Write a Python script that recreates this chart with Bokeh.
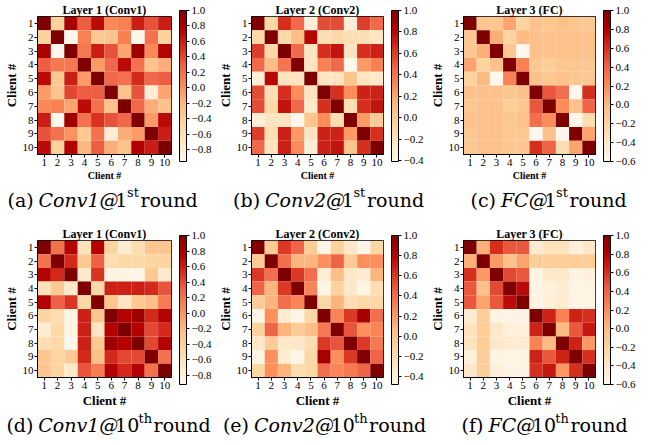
import numpy as np
from bokeh.plotting import figure
from bokeh.models import (LinearColorMapper, ColorBar, FixedTicker, CustomJSTickFormatter,
                          Label, Range1d, ColumnDataSource)
from bokeh.layouts import row, column
from bokeh.embed import file_html
from bokeh.resources import INLINE

# ---------------- data ----------------
clients = list(range(1, 11))
tick_labels = [str(c) for c in clients]

conv1_r1 = [
    [1.00, -0.45, 0.80, 0.30, 0.70, 0.05, 0.10, 0.60, 0.35, 0.60],
    [-0.45, 1.00, -0.95, 0.10, -0.35, -0.30, 0.10, -0.95, 0.20, -0.45],
    [0.80, -0.95, 1.00, 0.15, 0.60, 0.35, -0.10, 0.85, 0.05, 0.75],
    [0.30, 0.15, 0.15, 1.00, -0.05, 0.25, 0.70, 0.20, -0.30, -0.15],
    [0.70, -0.35, 0.60, -0.05, 1.00, 0.25, 0.20, 0.55, 0.25, 0.30],
    [-0.05, -0.30, 0.40, 0.30, 0.30, 1.00, -0.30, 0.35, -0.80, -0.10],
    [0.05, 0.10, -0.10, 0.70, 0.20, -0.30, 1.00, 0.25, -0.15, -0.30],
    [0.60, -0.95, 0.85, 0.20, 0.50, 0.35, 0.25, 1.00, -0.05, 0.70],
    [0.35, 0.20, 0.00, -0.35, 0.20, -0.80, -0.15, -0.05, 1.00, 0.60],
    [0.70, -0.45, 0.75, -0.20, 0.30, -0.15, -0.30, 0.75, 0.60, 1.00],
]
conv2_r1 = [
    [1.00, -0.10, 0.65, 0.45, -0.30, 0.55, 0.55, -0.30, 0.60, 0.45],
    [-0.10, 1.00, -0.10, 0.10, 0.80, -0.15, -0.10, -0.15, -0.15, -0.20],
    [0.60, -0.10, 1.00, 0.45, -0.20, 0.65, 0.75, -0.20, 0.65, 0.70],
    [0.45, 0.10, 0.40, 1.00, -0.20, 0.35, 0.45, -0.40, 0.25, 0.35],
    [-0.30, 0.80, -0.20, -0.20, 1.00, -0.20, -0.20, 0.05, -0.20, -0.25],
    [0.55, -0.15, 0.65, 0.30, -0.20, 1.00, 0.65, 0.30, 0.70, 0.70],
    [0.55, -0.10, 0.75, 0.45, -0.25, 0.65, 1.00, -0.15, 0.65, 0.75],
    [-0.30, -0.20, -0.20, -0.40, 0.05, 0.30, -0.15, 1.00, 0.25, 0.00],
    [0.60, -0.15, 0.70, 0.25, -0.20, 0.70, 0.70, 0.25, 1.00, 0.65],
    [0.45, -0.20, 0.70, 0.30, -0.30, 0.70, 0.75, 0.05, 0.65, 1.00],
]
fc_r1 = [
    [1.00, -0.10, -0.10, 0.10, -0.20, -0.05, -0.10, -0.05, -0.10, -0.10],
    [-0.10, 1.00, 0.05, -0.20, 0.00, -0.05, -0.05, -0.05, -0.05, -0.05],
    [-0.10, 0.05, 1.00, -0.10, -0.60, -0.05, -0.05, -0.05, -0.05, -0.05],
    [0.10, -0.20, -0.05, 1.00, 0.25, -0.10, -0.15, -0.10, -0.10, -0.10],
    [-0.20, 0.00, -0.60, 0.25, 1.00, -0.05, -0.10, -0.05, -0.10, -0.10],
    [-0.05, -0.05, -0.05, -0.10, -0.05, 1.00, 0.45, 0.35, -0.60, 0.60],
    [-0.10, -0.05, -0.05, -0.15, -0.10, 0.45, 1.00, 0.20, -0.05, 0.40],
    [-0.05, -0.05, -0.05, -0.10, -0.05, 0.35, 0.20, 1.00, -0.60, -0.30],
    [-0.10, -0.05, -0.05, -0.10, -0.10, -0.60, -0.05, -0.60, 1.00, 0.10],
    [-0.10, -0.05, -0.05, -0.10, -0.10, 0.60, 0.40, -0.30, 0.10, 1.00],
]
conv1_r10 = [
    [1.00, 0.20, 0.75, -0.60, 0.75, -0.45, -0.75, -0.55, -0.30, -0.30],
    [0.20, 1.00, 0.55, -0.35, 0.30, -0.55, -0.50, -0.50, -0.45, -0.45],
    [0.75, 0.55, 1.00, -0.70, 0.50, -0.85, -0.85, -0.90, -0.35, -0.70],
    [-0.60, -0.35, -0.70, 1.00, -0.50, 0.60, 0.60, 0.60, 0.55, 0.35],
    [0.75, 0.30, 0.50, -0.50, 1.00, -0.30, -0.65, -0.35, -0.25, 0.15],
    [-0.45, -0.55, -0.85, 0.60, -0.30, 1.00, 0.75, 0.85, 0.55, 0.75],
    [-0.75, -0.50, -0.85, 0.60, -0.65, 0.75, 1.00, 0.75, 0.40, 0.55],
    [-0.55, -0.50, -0.90, 0.60, -0.35, 0.85, 0.75, 1.00, 0.40, 0.75],
    [-0.30, -0.45, -0.35, 0.55, -0.25, 0.55, 0.40, 0.40, 1.00, 0.20],
    [-0.30, -0.45, -0.70, 0.35, 0.15, 0.75, 0.55, 0.75, 0.20, 1.00],
]
conv2_r10 = [
    [1.00, -0.05, 0.60, 0.45, -0.05, -0.45, -0.10, -0.30, -0.45, -0.15],
    [-0.05, 1.00, 0.40, 0.10, 0.10, 0.25, 0.45, -0.05, 0.25, 0.25],
    [0.60, 0.40, 1.00, 0.60, 0.40, -0.35, 0.05, -0.30, -0.35, 0.10],
    [0.45, 0.10, 0.60, 1.00, 0.30, -0.45, -0.10, -0.30, -0.45, -0.20],
    [-0.05, 0.10, 0.40, 0.30, 1.00, -0.15, 0.10, -0.20, -0.15, -0.15],
    [-0.45, 0.25, -0.35, -0.45, -0.15, 1.00, 0.30, 0.60, 0.85, 0.40],
    [-0.10, 0.45, 0.10, -0.05, 0.05, 0.35, 1.00, 0.50, 0.25, 0.30],
    [-0.30, -0.05, -0.30, -0.30, -0.20, 0.60, 0.50, 1.00, 0.60, 0.35],
    [-0.45, 0.25, -0.35, -0.45, -0.15, 0.85, 0.25, 0.60, 1.00, 0.45],
    [-0.15, 0.25, 0.10, -0.20, -0.15, 0.40, 0.30, 0.35, 0.45, 1.00],
]
fc_r10 = [
    [1.00, 0.05, 0.60, 0.45, 0.45, -0.45, -0.35, -0.35, -0.50, -0.40],
    [0.05, 1.00, 0.15, -0.05, 0.10, -0.15, -0.15, -0.15, -0.15, -0.15],
    [0.60, 0.15, 1.00, 0.50, 0.45, -0.55, -0.40, -0.40, -0.55, -0.50],
    [0.45, -0.05, 0.50, 1.00, 0.75, -0.55, -0.50, -0.45, -0.55, -0.55],
    [0.45, 0.10, 0.45, 0.75, 1.00, -0.55, -0.50, -0.45, -0.55, -0.55],
    [-0.45, -0.15, -0.55, -0.55, -0.55, 1.00, 0.65, 0.25, 0.65, 0.60],
    [-0.35, -0.15, -0.40, -0.50, -0.50, 0.65, 1.00, 0.00, 0.45, 0.70],
    [-0.35, -0.15, -0.40, -0.45, -0.45, 0.25, 0.00, 1.00, 0.65, 0.15],
    [-0.50, -0.15, -0.55, -0.55, -0.55, 0.65, 0.45, 0.65, 1.00, 0.60],
    [-0.40, -0.15, -0.50, -0.55, -0.55, 0.60, 0.70, 0.15, 0.60, 1.00],
]

titles = ["Layer 1 (Conv1)", "Layer 2 (Conv2)", "Layer 3 (FC)",
          "Layer 1 (Conv1)", "Layer 2 (Conv2)", "Layer 3 (FC)"]
matrices = [conv1_r1, conv2_r1, fc_r1, conv1_r10, conv2_r10, fc_r10]
color_low = [-0.95, -0.41, -0.60, -0.92, -0.48, -0.60]
color_high = [1.0, 1.0, 1.0, 1.0, 1.0, 1.0]
cbar_ticks = [
    [-0.8, -0.6, -0.4, -0.2, 0.0, 0.2, 0.4, 0.6, 0.8, 1.0],
    [-0.4, -0.2, 0.0, 0.2, 0.4, 0.6, 0.8, 1.0],
    [-0.6, -0.4, -0.2, 0.0, 0.2, 0.4, 0.6, 0.8, 1.0],
    [-0.8, -0.6, -0.4, -0.2, 0.0, 0.2, 0.4, 0.6, 0.8, 1.0],
    [-0.4, -0.2, 0.0, 0.2, 0.4, 0.6, 0.8, 1.0],
    [-0.6, -0.4, -0.2, 0.0, 0.2, 0.4, 0.6, 0.8, 1.0],
]
# caption pieces: (text, style, is_superscript)
captions = [
    [("(a) ", "normal", False), ("Conv1@", "italic", False), ("1", "normal", False), ("st", "normal", True), (" round", "normal", False)],
    [("(b) ", "normal", False), ("Conv2@", "italic", False), ("1", "normal", False), ("st", "normal", True), (" round", "normal", False)],
    [("(c) ", "normal", False), ("FC@", "italic", False), ("1", "normal", False), ("st", "normal", True), (" round", "normal", False)],
    [("(d) ", "normal", False), ("Conv1@", "italic", False), ("10", "normal", False), ("th", "normal", True), (" round", "normal", False)],
    [("(e) ", "normal", False), ("Conv2@", "italic", False), ("10", "normal", False), ("th", "normal", True), (" round", "normal", False)],
    [("(f) ", "normal", False), ("FC@", "italic", False), ("10", "normal", False), ("th", "normal", True), (" round", "normal", False)],
]

# ---------------- style ----------------
SERIF = "Liberation Serif"
CAP_FONT = "DejaVu Serif"
anchors = ['#fff7ec', '#fee8c8', '#fdd49e', '#fdbb84', '#fc8d59',
           '#ef6548', '#d7301f', '#b30000', '#7f0000']
rgb = np.array([[int(h[i:i + 2], 16) for i in (1, 3, 5)] for h in anchors], float)
tpos = np.linspace(0, 1, len(anchors))
palette = []
for v in np.linspace(0, 1, 256):
    r, g, b = (np.interp(v, tpos, rgb[:, k]) for k in range(3))
    palette.append('#%02x%02x%02x' % (int(round(r)), int(round(g)), int(round(b))))

# approximate advance widths (em) of DejaVu Serif (scaled to rendered size)
CW = {' ': .318, '(': .390, ')': .390, 'a': .596, 'b': .640, 'c': .562, 'd': .640,
      'e': .592, 'f': .371, 'h': .644, 'n': .644, 'o': .602, 'r': .478, 's': .512,
      't': .402, 'u': .644, 'v': .589, 'C': .717, 'F': .654, '@': 1.0}

def text_w(s, size):
    return sum(CW.get(ch, .636) for ch in s) * size * 0.965

fmt = CustomJSTickFormatter(code="return (tick < -1e-9 ? '\\u2212' : '') + Math.abs(tick).toFixed(1);")

def make_panel(i, W, L, T, FW, FH, B, xlab_size):
    H = T + FH + B
    mat = np.array(matrices[i])
    xs = [c for r_ in clients for c in clients]
    ys = [r_ for r_ in clients for c in clients]
    src = ColumnDataSource(dict(x=xs, y=ys, v=mat.flatten().tolist()))
    mapper = LinearColorMapper(palette=palette, low=color_low[i], high=color_high[i])
    p = figure(width=W, height=H, x_range=Range1d(0.5, 10.5), y_range=Range1d(10.5, 0.5),
               output_backend="svg", toolbar_location=None, tools="",
               min_border_left=L, min_border_right=W - L - FW,
               min_border_top=T, min_border_bottom=B)
    p.rect(x='x', y='y', width=1, height=1, source=src,
           fill_color={'field': 'v', 'transform': mapper}, line_color=None)
    p.grid.visible = False
    p.outline_line_color = "black"
    p.outline_line_width = 1
    for ax in (p.xaxis[0], p.yaxis[0]):
        ax.ticker = FixedTicker(ticks=clients)
        ax.major_label_overrides = {c: t for c, t in zip(clients, tick_labels)}
        ax.major_label_text_font = SERIF
        ax.major_label_text_font_size = "11px"
        ax.major_label_text_color = "black"
        ax.major_tick_out = 3
        ax.major_tick_in = 0
        ax.major_tick_line_color = "black"
        ax.minor_tick_line_color = None
        ax.axis_line_color = "black"
        ax.major_label_standoff = 1
        ax.axis_label = "Client #"
        ax.axis_label_text_font = SERIF
        ax.axis_label_text_font_style = "bold"
        ax.axis_label_text_color = "black"
        ax.axis_label_standoff = 1
    p.yaxis[0].axis_label_text_font_size = "13px"
    p.xaxis[0].axis_label_text_font_size = xlab_size

    p.title.text = titles[i]
    p.title.align = "center"
    p.title.text_font = SERIF
    p.title.text_font_style = "bold"
    p.title.text_font_size = "12px"
    p.title.text_color = "black"
    if "standoff" in p.title.properties():
        p.title.standoff = 0
    if "offset" in p.title.properties():
        p.title.offset = 0

    cb = ColorBar(color_mapper=mapper, width=7, height=FH + 12,
                  ticker=FixedTicker(ticks=cbar_ticks[i]), formatter=fmt,
                  major_label_text_font=SERIF, major_label_text_font_size="11px",
                  major_label_text_color="black",
                  major_tick_in=0, major_tick_out=3, major_tick_line_color="black",
                  minor_tick_line_color=None, bar_line_color="black",
                  border_line_color=None, background_fill_color=None,
                  label_standoff=2, padding=0, margin=0, location=(8, -7))
    p.add_layout(cb, "right")
    return p

def make_caption(i, W, Hc, center, base, raise_px):
    c = figure(width=W, height=Hc, x_range=Range1d(0, W), y_range=Range1d(Hc, 0),
               output_backend="svg", toolbar_location=None, tools="", title=None,
               x_axis_location=None, y_axis_location=None,
               min_border=0, min_border_left=0, min_border_right=0,
               min_border_top=0, min_border_bottom=0)
    c.grid.visible = False
    c.outline_line_color = None
    pieces = captions[i]
    sizes = [13 if sup else 19 for _, _, sup in pieces]
    gaps = [2 if sup else 0 for _, _, sup in pieces]
    total = sum(text_w(t, s) + g for (t, _, _), s, g in zip(pieces, sizes, gaps))
    x0 = center - total / 2
    for (t, style, sup), s, g in zip(pieces, sizes, gaps):
        c.add_layout(Label(x=x0, y=base - (raise_px if sup else 0),
                           text=t, text_align="left", text_baseline="alphabetic",
                           text_font=CAP_FONT, text_font_style=style,
                           text_font_size=f"{s}px", text_color="black"))
        x0 += text_w(t, s) + g
    return c

widths = [214, 212, 212]
lefts = [33, 33, 33]
FW = 138
cap_centers_1 = [104, 116, 124]
cap_centers_2 = [110, 112, 120]
row1 = [make_panel(k, widths[k], lefts[k], 15, FW, 139, 32, "10px") for k in range(3)]
cap1 = [make_caption(k, widths[k], 30, cap_centers_1[k], 13, 7) for k in range(3)]
row2 = [make_panel(k + 3, widths[k], lefts[k], 24, FW, 137, 33, "13px") for k in range(3)]
cap2 = [make_caption(k + 3, widths[k], 27, cap_centers_2[k], 14, 6) for k in range(3)]

layout = column(row(*row1), row(*cap1), row(*row2), row(*cap2))
open("out.html", "w").write(file_html(layout, INLINE))
